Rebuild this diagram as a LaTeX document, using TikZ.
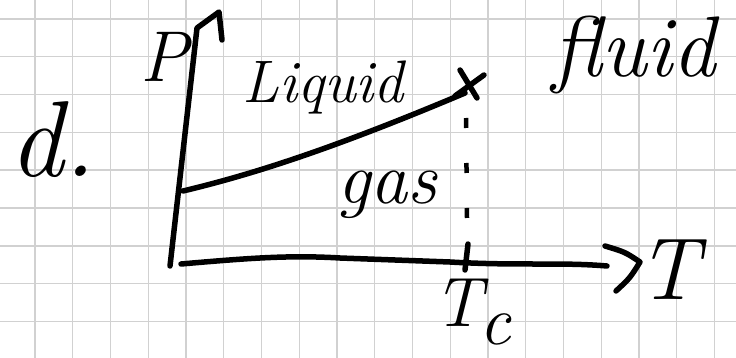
\documentclass[tikz,border=0pt]{standalone}
\begin{document}
\begin{tikzpicture}[x=1pt,y=-1pt,
  gridline/.style={draw=black!18,line width=1.4pt},
  pen/.style={draw=black,line width=5.5pt,line cap=round,line join=round},
  hand/.style={inner sep=0pt,anchor=center,text=black},
]
\useasboundingbox (0,0) rectangle (736,358);
\fill[white] (0,0) rectangle (736,358);
% grid
\foreach \k in {0,...,18} { \draw[gridline] ({35+37.75*\k},0) -- ({35+37.75*\k},358); }
\foreach \k in {0,...,8} { \draw[gridline] (0,{19+37.8*\k}) -- (736,{19+37.8*\k}); }

% coordinates
\coordinate (pbot) at (170,266);
\coordinate (ptop) at (197,28);
\coordinate (phk1) at (219,12);
\coordinate (phk2) at (222,40);
\coordinate (tleft) at (181,264);
\coordinate (tright) at (607,266);
\coordinate (ah1) at (605,246);
\coordinate (ah2) at (640,262);
\coordinate (ah3) at (616,291);
\coordinate (cstart) at (183,191);
\coordinate (crit) at (465,93);
\coordinate (dtop) at (466,118);
\coordinate (dbot) at (467,218);
\coordinate (ticktop) at (468,244);
\coordinate (tickbot) at (465,270);

% axes
\draw[pen] (pbot) -- (ptop) -- (phk1) -- (phk2);
\draw[pen] (tleft) .. controls (250,258) and (290,255) .. (340,258) -- (450,262) .. controls (520,266) and (560,262) .. (tright);
\draw[pen] (ah1) .. controls (625,252) .. (ah2) .. controls (630,278) .. (ah3);
% coexistence curve
\draw[pen] (cstart) .. controls (250,175) and (330,150) .. (crit);
% critical point cross
\draw[pen] (460,70) -- (477,98);
\draw[pen] (484,75) -- (455,96);
% dashed line
\draw[pen,line width=4.5pt,line cap=butt,dash pattern=on 10pt off 35pt] (dtop) -- (dbot);
\draw[pen] (ticktop) -- (tickbot);

% labels
\node[hand,font=\fontsize{108}{112}\selectfont\itshape] (lbl) at (53,140) {d.};
\node[hand,font=\fontsize{72}{76}\selectfont\itshape] (plbl) at (164,57) {P};
\node[hand,font=\fontsize{60}{64}\selectfont\itshape] (liq) at (323,88) {Liquid};
\node[hand,font=\fontsize{86}{90}\selectfont\itshape] (flu) at (634,55) {fluid};
\node[hand,font=\fontsize{74}{78}\selectfont\itshape] (gas) at (387,195) {gas};
\node[hand,font=\fontsize{88}{92}\selectfont\itshape] (tlbl) at (668,270) {T};
\node[hand,font=\fontsize{70}{74}\selectfont\itshape] (tc) at (472,312) {T\kern-3pt\raisebox{-18pt}{c}};
\end{tikzpicture}
\end{document}
